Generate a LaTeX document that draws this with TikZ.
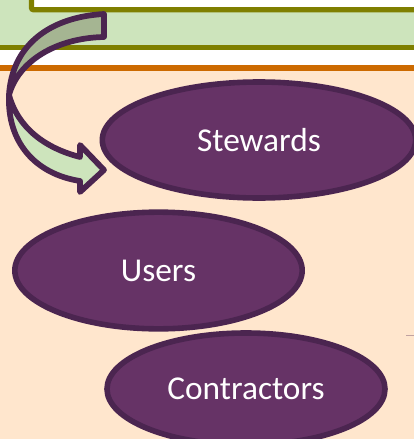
\documentclass[tikz,border=0pt]{standalone}
\usepackage{fontspec}
\setmainfont{Carlito}
\usetikzlibrary{shapes.geometric}
\definecolor{peach}{HTML}{FFE6CD}
\definecolor{lgreen}{HTML}{CDE4BC}
\definecolor{dgreen}{HTML}{A5B592}
\definecolor{olive}{HTML}{7F7F00}
\definecolor{orangeline}{HTML}{CC6A00}
\definecolor{plum}{HTML}{663366}
\definecolor{darkplum}{HTML}{4B2550}
\newcommand{\blobtext}[1]{\raisebox{-1.2pt}{#1}}
\tikzset{
  px/.style={x=0.75pt,y=-0.75pt},
  blob/.style={ellipse,draw=darkplum,fill=plum,line width=4.2pt,text=white,font=\fontsize{25}{30}\selectfont,inner sep=0pt,outer sep=0pt},
  bentarrow/.style={draw=darkplum,line width=4.3pt,line join=round}
}
\begin{document}
\begin{tikzpicture}[px]
\useasboundingbox (0,0) rectangle (414,439);
\begin{scope}
\clip (0,0) rectangle (414,439);
\fill[white] (0,0) rectangle (414,439);
\fill[peach] (0,68) rectangle (414,439);
\draw[orangeline,line width=4.3pt] (-10,68) -- (424,68);
\draw[olive,line width=4pt,fill=lgreen] (-10,-10) rectangle (424,47.5);
\draw[olive,line width=4pt,fill=white,rounded corners=1.5pt] (31.5,-20) rectangle (434,9.7);
\draw[darkplum!35!peach,line width=0.9pt] (406,335.5) -- (414,335.5);
\node[blob,minimum width=235pt,minimum height=87pt] (stewards) at (259,140) {\blobtext{Stewards}};
\node[blob,minimum width=215.5pt,minimum height=87.5pt] (users) at (158.5,270.5) {\blobtext{Users}};
\node[blob,minimum width=208.5pt,minimum height=84pt] (contractors) at (246,389) {\blobtext{Contractors}};
\draw[bentarrow,fill=dgreen] (104,14) .. controls (50,17) and (12,45) .. (9,95)
  .. controls (18,62) and (55,38) .. (104,37) -- cycle;
\draw[bentarrow,fill=lgreen] (9,95) .. controls (7,142) and (35,174) .. (80,181)
  -- (80,192) -- (104,170) -- (80,145) -- (80,157) .. controls (45,148) and (18,128) .. (9,95) -- cycle;
\end{scope}
\end{tikzpicture}
\end{document}
